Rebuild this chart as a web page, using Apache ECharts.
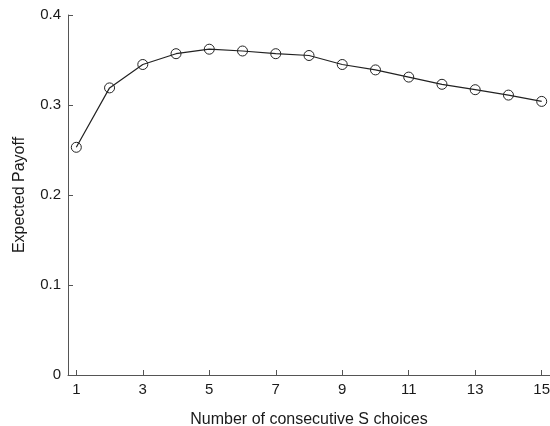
<!DOCTYPE html>
<html>
<head>
<meta charset="utf-8">
<script src="https://cdn.jsdelivr.net/npm/echarts@6/dist/echarts.min.js"></script>
<style>
html, body { margin: 0; padding: 0; background: #fff; }
#chart { width: 550px; height: 426px; }
</style>
</head>
<body>
<div id="chart"></div>
<script>
var choices = [1, 2, 3, 4, 5, 6, 7, 8, 9, 10, 11, 12, 13, 14, 15];
var payoff = [0.253, 0.319, 0.345, 0.357, 0.362, 0.360, 0.357, 0.355, 0.345, 0.339, 0.331, 0.323, 0.317, 0.311, 0.304];
var xTicks = [1, 3, 5, 7, 9, 11, 13, 15];

var points = [];
choices.forEach(function (c, i) {
    points.push([c, payoff[i]]);
});

var myChart = echarts.init(document.getElementById('chart'));
var axisColor = '#555';
var textColor = '#1a1a1a';
var font = 'Liberation Sans';
var option = {
    animation: false,
    grid: {
        left: 68,
        right: 0,
        top: 15,
        bottom: 51,
        outerBoundsMode: 'none'
    },
    xAxis: {
        type: 'value',
        min: 0.75,
        max: 15.25,
        name: 'Number of consecutive S choices',
        nameLocation: 'middle',
        nameGap: 37,
        nameTextStyle: { color: textColor, fontSize: 16, fontFamily: font },
        splitLine: { show: false },
        axisLine: { lineStyle: { color: axisColor, width: 1 } },
        axisTick: { inside: true, length: 5, customValues: xTicks, lineStyle: { color: axisColor } },
        axisLabel: { customValues: xTicks, margin: 7, color: textColor, fontSize: 15, fontFamily: font }
    },
    yAxis: {
        type: 'value',
        min: 0,
        max: 0.4,
        interval: 0.1,
        name: 'Expected Payoff',
        nameLocation: 'middle',
        nameGap: 40,
        nameTextStyle: { color: textColor, fontSize: 16, fontFamily: font },
        splitLine: { show: false },
        axisLine: { show: true, lineStyle: { color: axisColor, width: 1 } },
        axisTick: { show: true, inside: true, length: 5, lineStyle: { color: axisColor } },
        axisLabel: { margin: 7, color: textColor, fontSize: 15, fontFamily: font }
    },
    series: [{
        type: 'line',
        data: points,
        symbol: 'circle',
        symbolSize: 10,
        itemStyle: { color: 'rgba(255,255,255,0)', borderColor: '#222', borderWidth: 1 },
        lineStyle: { color: '#222', width: 1.2 }
    }]
};
myChart.setOption(option);
</script>
</body>
</html>
